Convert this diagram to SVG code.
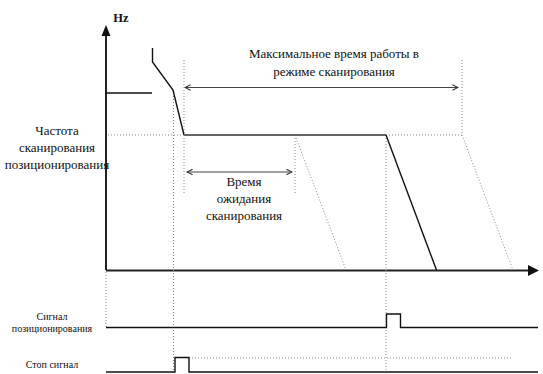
<svg xmlns="http://www.w3.org/2000/svg" width="543" height="374" viewBox="0 0 543 374">
<style>
text{font-family:'Liberation Serif','Times New Roman',serif;fill:#111;text-anchor:middle}
.m{font-size:13px}
.s{font-size:10px}
.dot{stroke:#888;stroke-width:1;stroke-dasharray:1 2;fill:none}
.ln{stroke:#111;stroke-width:1.4;fill:none}
.ax{stroke:#222;stroke-width:2;fill:none}
.dim{stroke:#444;stroke-width:1.2;fill:none}
</style>
<defs>
<marker id="chev" viewBox="0 0 10 10" refX="9" refY="5" markerWidth="7" markerHeight="7" orient="auto-start-reverse" markerUnits="userSpaceOnUse">
<path d="M1,1 L9,5 L1,9" fill="none" stroke="#333" stroke-width="1.5"/>
</marker>
</defs>
<rect width="543" height="374" fill="#fff"/>
<g id="axes">
<line class="ax" x1="106" y1="34" x2="106" y2="270"/>
<polygon points="101.5,36 106,25 110.5,36" fill="#111"/>
<line class="ax" x1="106" y1="270.5" x2="530" y2="270.5"/>
<polygon points="528,265 539,270.5 528,276" fill="#111"/>
<text x="121" y="22" font-size="12.5" font-weight="bold">Hz</text>
</g>
<g id="guides">
<line class="dot" x1="108" y1="135" x2="183" y2="135"/>
<line class="dot" x1="386" y1="135" x2="462" y2="135"/>
<line class="dot" x1="173.5" y1="90" x2="173.5" y2="372"/>
<line class="dot" x1="184" y1="60" x2="184" y2="195"/>
<line class="dot" x1="295" y1="135" x2="295" y2="195"/>
<line class="dot" x1="295" y1="135" x2="346" y2="270"/>
<line class="dot" x1="386" y1="135" x2="386" y2="372"/>
<line class="dot" x1="462" y1="60" x2="462" y2="135"/>
<line class="dot" x1="462" y1="135" x2="513" y2="270"/>
<line class="dot" x1="106" y1="272" x2="106" y2="327"/>
<line class="dot" x1="189" y1="358" x2="512" y2="358"/>
</g>
<g id="curve">
<line class="ln" x1="106" y1="93" x2="152" y2="93"/>
<polyline class="ln" points="152.5,48 152.5,62 173,90 184,135"/>
<line x1="184" y1="135" x2="386" y2="135" stroke="#666" stroke-width="1.8"/>
<line class="ln" x1="386" y1="135" x2="436.5" y2="270"/>
</g>
<g id="connectors">
<line class="dim" x1="185" y1="87.5" x2="458" y2="87.5" marker-start="url(#chev)" marker-end="url(#chev)"/>
<line class="dim" x1="187" y1="172" x2="292" y2="172" marker-start="url(#chev)" marker-end="url(#chev)"/>
</g>
<g id="label-max">
<text class="m" x="334" y="58">Максимальное время работы в</text>
<text class="m" x="334" y="76">режиме сканирования</text>
</g>
<g id="label-wait">
<text class="m" x="244" y="186">Время</text>
<text class="m" x="244" y="203">ожидания</text>
<text class="m" x="244" y="220">сканирования</text>
</g>
<g id="label-freq">
<text class="m" x="57" y="135">Частота</text>
<text class="m" x="57" y="152">сканирования</text>
<text class="m" x="57" y="169">позиционирования</text>
</g>
<g id="signal-pos">
<polyline class="ln" points="106,327.5 386.5,327.5 386.5,314 400.5,314 400.5,327.5 538,327.5"/>
<text class="s" x="52" y="320">Сигнал</text>
<text class="s" x="52" y="332">позиционирования</text>
</g>
<g id="signal-stop">
<polyline class="ln" points="106,372 175,372 175,357.5 189,357.5 189,372 538,372"/>
<text class="s" x="52" y="368">Стоп сигнал</text>
</g>
</svg>
